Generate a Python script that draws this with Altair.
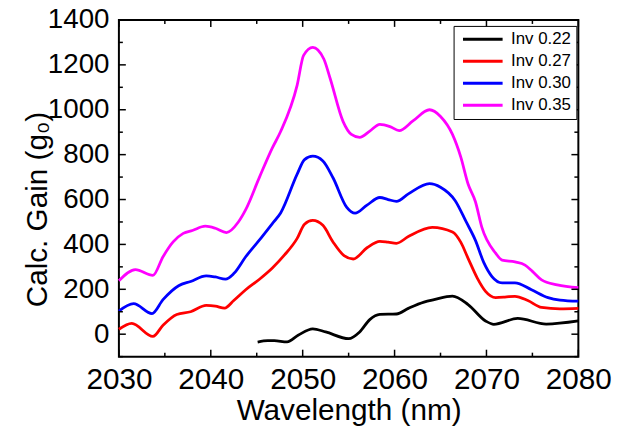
import altair as alt
import pandas as pd

# ---- data ----
series_names = ["Inv 0.22", "Inv 0.27", "Inv 0.30", "Inv 0.35"]
series_colors = ["#000000", "#ff0000", "#0000ff", "#ff00ff"]

wl_022 = [2045.1, 2046.2, 2046.9, 2048.3, 2049.5, 2051.1, 2052.5, 2055.0, 2056.2, 2057.3,
          2058.4, 2060.2, 2061.5, 2063.2, 2064.3, 2066.3, 2068.0, 2069.9, 2070.8, 2073.4,
          2076.5, 2080.0]
gain_022 = [-35, -29, -29, -34, -5, 24, 10, -20, 10, 65,
            88, 90, 115, 143, 154, 170, 132, 59, 44, 70,
            45, 59]

wl_027 = [2030.0, 2031.4, 2033.7, 2034.8, 2036.3, 2037.8, 2039.5, 2040.5, 2041.5, 2042.5,
          2043.8, 2045.3, 2046.7, 2048.0, 2049.4, 2050.2, 2051.1, 2052.2, 2053.3, 2054.5,
          2055.5, 2057.0, 2058.4, 2059.3, 2060.2, 2061.5, 2064.1, 2066.3, 2067.2, 2068.0,
          2069.0, 2069.9, 2071.0, 2072.0, 2073.1, 2074.5, 2076.0, 2078.0, 2080.0]
gain_027 = [22, 48, -10, 40, 88, 100, 128, 125, 116, 150,
            198, 245, 295, 352, 427, 490, 507, 485, 411, 350,
            335, 385, 414, 410, 405, 435, 476, 455, 410, 338,
            250, 191, 163, 165, 169, 150, 119, 113, 115]

wl_030 = [2030.0, 2031.6, 2033.6, 2034.8, 2036.5, 2037.8, 2039.5, 2040.5, 2041.6, 2042.5,
          2043.8, 2045.3, 2046.7, 2047.6, 2049.4, 2050.2, 2051.1, 2052.2, 2053.3, 2054.8,
          2055.7, 2057.0, 2058.4, 2059.3, 2060.2, 2061.5, 2063.8, 2065.0, 2066.6, 2067.8,
          2068.8, 2069.7, 2070.6, 2071.7, 2073.1, 2074.9, 2076.7, 2078.0, 2080.0]
gain_030 = [103, 136, 92, 154, 216, 235, 260, 255, 245, 270,
            345, 420, 493, 540, 713, 778, 793, 772, 697, 565,
            539, 575, 609, 600, 592, 625, 671, 655, 595, 500,
            418, 320, 257, 229, 229, 198, 163, 152, 147]

wl_035 = [2030.0, 2031.8, 2033.7, 2034.8, 2035.9, 2037.0, 2038.0, 2039.4, 2040.5, 2041.7,
          2043.0, 2043.8, 2045.3, 2046.7, 2047.6, 2049.4, 2050.1, 2051.1, 2052.3, 2053.0,
          2054.4, 2055.3, 2056.2, 2057.3, 2058.4, 2059.5, 2060.5, 2062.0, 2063.8, 2065.0,
          2066.3, 2067.2, 2068.0, 2068.8, 2069.5, 2071.0, 2071.7, 2073.1, 2074.2, 2075.0,
          2076.0, 2077.7, 2080.0]
gain_035 = [238, 288, 262, 345, 411, 449, 462, 481, 472, 453,
            500, 555, 700, 830, 903, 1110, 1242, 1278, 1226, 1138,
            947, 890, 877, 905, 935, 925, 907, 950, 1000, 970,
            890, 790, 669, 590, 476, 361, 330, 322, 308, 280,
            242, 220, 207]

x_major = [2030, 2040, 2050, 2060, 2070, 2080]
x_minor = [2035, 2045, 2055, 2065, 2075]
y_major = [0, 200, 400, 600, 800, 1000, 1200, 1400]
y_minor = [-100, 100, 300, 500, 700, 900, 1100, 1300]

# ---- build tables ----
rows = []
for name, xs, ys in zip(series_names,
                        [wl_022, wl_027, wl_030, wl_035],
                        [gain_022, gain_027, gain_030, gain_035]):
    for i, (a, b) in enumerate(zip(xs, ys)):
        rows.append({"series": name, "wl": a, "gain": b, "order": i})
df = pd.DataFrame(rows)

W, H = 464, 340
FONT = "Liberation Sans"

xscale = alt.Scale(domain=[2030, 2080], nice=False, zero=False)
yscale = alt.Scale(domain=[-100, 1400], nice=False, zero=False)

xaxis = alt.Axis(values=x_major, format="d", ticks=False, tickSize=0,
                 domain=False, grid=False, labelFont=FONT, labelFontSize=30,
                 labelColor="black", labelPadding=8, labelFlush=False,
                 labelOverlap=False, labelBound=False,
                 title="Wavelength (nm)", titleFont=FONT, titleFontSize=30,
                 titleFontWeight="normal", titleColor="black",
                 titleBaseline="alphabetic", titleY=63.5)
yaxis = alt.Axis(values=y_major, format="d", ticks=False, tickSize=0,
                 domain=False, grid=False, labelFont=FONT, labelFontSize=28,
                 labelColor="black", labelPadding=10, labelFlush=False,
                 labelOverlap=False, labelBound=False,
                 title="Calc. Gain (g₀)", titleFont=FONT, titleFontSize=30,
                 titleFontWeight="normal", titleColor="black",
                 titleBaseline="alphabetic", titleAlign="center",
                 titleAngle=270, titleX=-73, titleY=191)

lines = alt.Chart(df).mark_line(strokeWidth=2.8, interpolate="monotone").encode(
    x=alt.X("wl:Q", scale=xscale, axis=xaxis),
    y=alt.Y("gain:Q", scale=yscale, axis=yaxis),
    color=alt.Color("series:N", scale=alt.Scale(domain=series_names, range=series_colors),
                    legend=alt.Legend(title=None, orient="none", legendX=338, legendY=6,
                                      strokeColor="black", fillColor="white", padding=5,
                                      labelFont=FONT, labelFontSize=17, labelColor="black",
                                      symbolType="M-4,0H4", symbolStrokeWidth=3,
                                      symbolSize=100, symbolOffset=16,
                                      labelOffset=20, rowPadding=4.2)),
    order="order:Q",
)

dx_maj = pd.DataFrame({"v": x_major})
dx_min = pd.DataFrame({"v": x_minor})
dy_maj = pd.DataFrame({"v": y_major})
dy_min = pd.DataFrame({"v": y_minor})

def xticks(d, length):
    bottom = alt.Chart(d).mark_rule(color="black", strokeWidth=1.5).encode(
        x=alt.X("v:Q", scale=xscale, axis=xaxis), y=alt.value(H), y2=alt.value(H - length))
    top = alt.Chart(d).mark_rule(color="black", strokeWidth=1.5).encode(
        x=alt.X("v:Q", scale=xscale, axis=xaxis), y=alt.value(0), y2=alt.value(length))
    return [bottom, top]

def yticks(d, length):
    left = alt.Chart(d).mark_rule(color="black", strokeWidth=1.5).encode(
        y=alt.Y("v:Q", scale=yscale, axis=yaxis), x=alt.value(0), x2=alt.value(length))
    right = alt.Chart(d).mark_rule(color="black", strokeWidth=1.5).encode(
        y=alt.Y("v:Q", scale=yscale, axis=yaxis), x=alt.value(W), x2=alt.value(W - length))
    return [left, right]

tick_layers = xticks(dx_maj, 7) + xticks(dx_min, 4) + yticks(dy_maj, 7) + yticks(dy_min, 4)

chart = alt.layer(lines, *tick_layers).properties(
    width=W, height=H,
    autosize=alt.AutoSizeParams(type="none"),
    padding={"left": 112, "top": 10, "right": 36, "bottom": 72},
).configure_view(stroke="black", strokeWidth=2)

chart.save("out.html", embed_options={"renderer": "svg", "actions": False})
